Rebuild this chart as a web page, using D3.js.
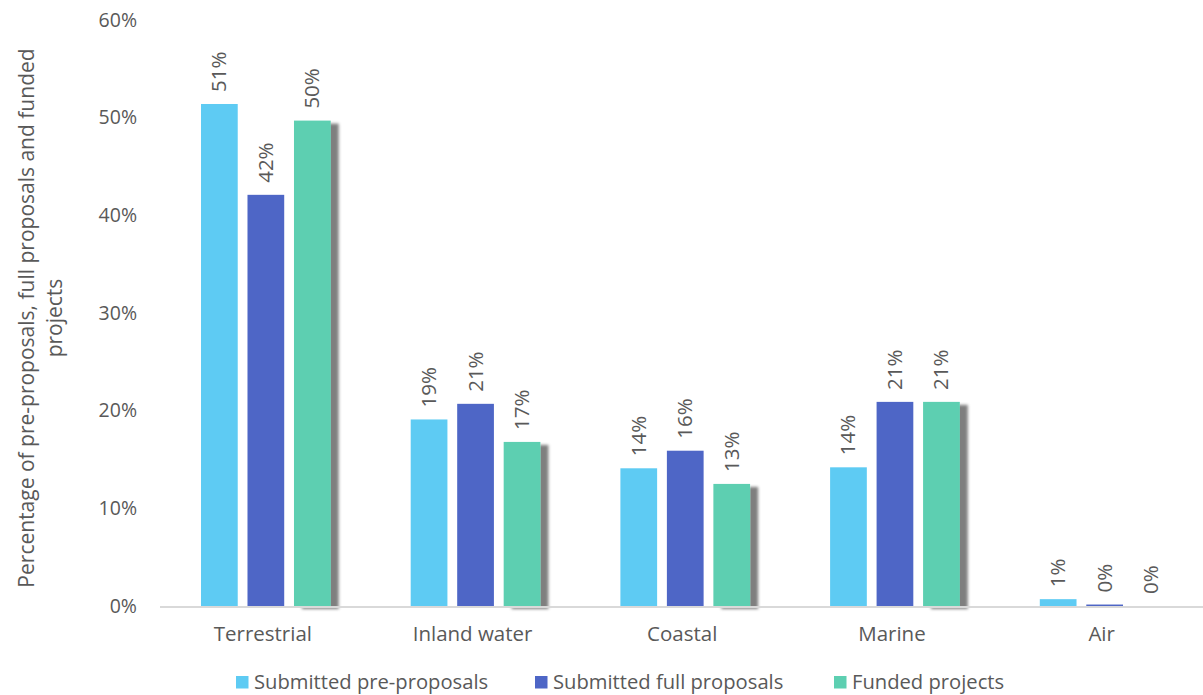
<!DOCTYPE html>
<html>
<head>
<meta charset="utf-8">
<script src="https://cdn.jsdelivr.net/npm/d3@7"></script>
<style>
  body { margin: 0; background: #fff; }
  text { font-family: "Open Sans", sans-serif; fill: #595959; }
</style>
</head>
<body>
<div id="chart"></div>
<script>
(function () {

    const categories = ['Terrestrial', 'Inland water', 'Coastal', 'Marine', 'Air']
    const seriesNames = ['Submitted pre-proposals', 'Submitted full proposals', 'Funded projects']
    const preProposals = [0.514, 0.191, 0.141, 0.142, 0.007]
    const fullProposals = [0.421, 0.207, 0.159, 0.209, 0.0015]
    const fundedProjects = [0.497, 0.168, 0.125, 0.209, 0]
    const valueLabels = [
        ['51%', '19%', '14%', '14%', '1%'],
        ['42%', '21%', '16%', '21%', '0%'],
        ['50%', '17%', '13%', '21%', '0%']
    ]
    const yTicks = [0, 0.1, 0.2, 0.3, 0.4, 0.5, 0.6]
    const colors = ['#5ecbf3', '#4e66c6', '#5dcfb1']

    const seriesValues = [preProposals, fullProposals, fundedProjects]

    const width = 1203;
    const height = 695;

    const svg = d3.select('#chart')
        .append('svg')
        .attr('width', width)
        .attr('height', height);

    // drop shadow for the funded bars
    const defs = svg.append('defs')
    const filter = defs.append('filter')
        .attr('id', 'shadow')
        .attr('x', '-20%').attr('y', '-10%')
        .attr('width', '160%').attr('height', '130%');
    filter.append('feGaussianBlur').attr('in', 'SourceAlpha').attr('stdDeviation', 1.5).attr('result', 'blur');
    filter.append('feOffset').attr('dx', 8).attr('dy', 3).attr('result', 'off');
    filter.append('feFlood').attr('flood-color', '#000').attr('flood-opacity', 0.5).attr('result', 'col');
    filter.append('feComposite').attr('in', 'col').attr('in2', 'off').attr('operator', 'in').attr('result', 'sh');
    const merge = filter.append('feMerge');
    merge.append('feMergeNode').attr('in', 'sh');
    merge.append('feMergeNode').attr('in', 'SourceGraphic');

    const x0 = d3.scaleBand()
        .domain(categories)
        .range([161, 1209.5])
        .padding(0);

    const x1 = d3.scaleBand()
        .domain(d3.range(seriesNames.length))
        .range([0, 129.7])
        .paddingInner(0.21)
        .paddingOuter(0);

    const groupOffset = (x0.bandwidth() - 129.7) / 2

    const y = d3.scaleLinear()
        .domain([0, 0.6])
        .range([606, 20]);

    // y axis labels
    const yAxis = svg.append('g')
        .attr('transform', 'translate(137,0)')
        .call(d3.axisLeft(y).tickValues(yTicks).tickFormat(d3.format('.0%')).tickSize(0).tickPadding(0));
    yAxis.select('.domain').remove();
    yAxis.selectAll('text')
        .style('font-size', '19.5px')
        .attr('fill', '#595959')
        .style('font-family', '"Open Sans", sans-serif');

    // bars
    const groups = svg.append('g')
        .selectAll('g')
        .data(seriesValues)
        .join('g')
        .attr('fill', (d, i) => colors[i])
        .attr('filter', (d, i) => i === 2 ? 'url(#shadow)' : null);

    groups.each(function (vals, si) {
        d3.select(this).selectAll('rect')
            .data(vals)
            .join('rect')
            .attr('x', (d, ci) => x0(categories[ci]) + groupOffset + x1(si))
            .attr('y', d => y(d))
            .attr('width', x1.bandwidth())
            .attr('height', d => Math.max(0, y(0) - y(d)));
    });

    // value labels
    seriesValues.forEach((vals, si) => {
        svg.append('g')
            .selectAll('text')
            .data(vals)
            .join('text')
            .attr('transform', (d, ci) => {
                const cx = x0(categories[ci]) + groupOffset + x1(si) + x1.bandwidth() / 2 + 7;
                return 'translate(' + cx + ',' + (y(d) - 12) + ') rotate(-90)';
            })
            .style('font-size', '20.5px')
            .text((d, ci) => valueLabels[si][ci]);
    });

    // x axis baseline
    svg.append('line')
        .attr('x1', 160).attr('x2', width)
        .attr('y1', 607).attr('y2', 607)
        .attr('stroke', '#d9d9d9')
        .attr('stroke-width', 2);

    // category labels
    svg.append('g')
        .selectAll('text')
        .data(categories)
        .join('text')
        .attr('x', d => x0(d) + x0.bandwidth() / 2 - 3)
        .attr('y', 641)
        .attr('text-anchor', 'middle')
        .style('font-size', '20.5px')
        .text(d => d);

    // y axis title
    const title = svg.append('text')
        .attr('transform', 'translate(0,318) rotate(-90)')
        .attr('text-anchor', 'middle')
        .style('font-size', '21px');
    title.append('tspan').attr('x', 0).attr('y', 34).text('Percentage of pre-proposals, full proposals and funded');
    title.append('tspan').attr('x', 0).attr('y', 62).text('projects');

    // legend
    const legendX = [236, 535, 834]
    const legend = svg.append('g')
        .selectAll('g')
        .data(seriesNames)
        .join('g')
        .attr('transform', (d, i) => 'translate(' + legendX[i] + ',676)');
    legend.append('rect')
        .attr('width', 12.5).attr('height', 12.5)
        .attr('fill', (d, i) => colors[i]);
    legend.append('text')
        .attr('x', 18)
        .attr('y', 13)
        .style('font-size', '20.2px')
        .text(d => d);

})();
</script>
</body>
</html>
